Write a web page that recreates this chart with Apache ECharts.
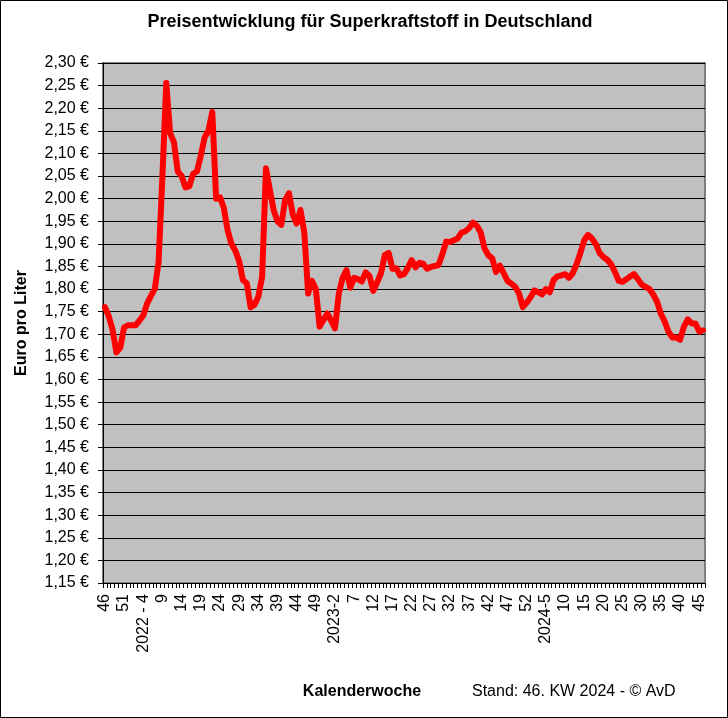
<!DOCTYPE html>
<html><head><meta charset="utf-8">
<script src="https://cdn.jsdelivr.net/npm/echarts@6/dist/echarts.min.js"></script>
<style>html,body{margin:0;padding:0;background:#fff}#c{width:728px;height:718px}</style>
</head><body><div id="c"></div>
<script>
const chartTitle = "Preisentwicklung für Superkraftstoff in Deutschland";
const yAxisTitle = "Euro pro Liter";
const xAxisTitle = "Kalenderwoche";
const footNote = "Stand: 46. KW 2024 - © AvD";

// calendar weeks covered: [year, firstWeek, lastWeek]
const weekRanges = [[2021, 46, 52], [2022, 1, 52], [2023, 1, 52], [2024, 1, 46]];

// labels shown on every 5th week
const tickLabels = ["46","51","2022 - 4","9","14","19","24","29","34","39","44","49",
  "2023-2","7","12","17","22","27","32","37","42","47","52",
  "2024-5","10","15","20","25","30","35","40","45"];

// Euro per litre, one value per week
const prices = [
  1.760,1.740,1.710,1.660,1.670,1.715,1.720,1.720,1.720,1.730,
  1.742,1.768,1.785,1.800,1.860,2.050,2.256,2.145,2.125,2.060,
  2.050,2.025,2.027,2.055,2.060,2.095,2.135,2.150,2.192,2.000,
  2.003,1.980,1.930,1.900,1.885,1.862,1.820,1.813,1.760,1.765,
  1.783,1.827,2.067,2.020,1.975,1.950,1.942,1.997,2.012,1.965,
  1.945,1.975,1.925,1.790,1.818,1.800,1.717,1.732,1.746,1.730,
  1.713,1.790,1.825,1.842,1.803,1.825,1.822,1.817,1.837,1.829,
  1.796,1.815,1.835,1.875,1.880,1.845,1.846,1.830,1.833,1.847,
  1.864,1.848,1.858,1.856,1.845,1.849,1.851,1.853,1.877,1.905,
  1.904,1.908,1.912,1.925,1.928,1.935,1.947,1.940,1.925,1.890,
  1.875,1.868,1.838,1.852,1.835,1.818,1.812,1.805,1.790,1.760,
  1.770,1.782,1.797,1.793,1.788,1.800,1.793,1.820,1.828,1.830,
  1.833,1.825,1.835,1.855,1.880,1.908,1.920,1.912,1.900,1.880,
  1.871,1.865,1.855,1.838,1.818,1.816,1.822,1.828,1.833,1.822,
  1.810,1.805,1.800,1.788,1.772,1.745,1.728,1.705,1.693,1.693,
  1.688,1.717,1.733,1.724,1.724,1.706,1.709
];

const categories = [];
weekRanges.forEach(([y, a, b]) => { for (let w = a; w <= b; w++) categories.push(y + "-" + w); });

const FONT = "Arial, 'Liberation Sans', sans-serif";
const chart = echarts.init(document.getElementById('c'), null, {renderer: 'canvas'});
chart.setOption({
  animation: false,
  backgroundColor: '#ffffff',
  grid: {left: 103, right: 23, top: 63, bottom: 135, show: true,
    backgroundColor: '#c0c0c0', borderColor: '#808080', borderWidth: 2},
  xAxis: {
    type: 'category', data: categories, boundaryGap: true,
    axisLine: {show: true, lineStyle: {color: '#000', width: 1}},
    axisTick: {show: true, interval: 0, length: 5, lineStyle: {color: '#000'}},
    axisLabel: {interval: 4, rotate: 90, margin: 11, color: '#000', fontFamily: FONT, fontSize: 16,
      formatter: (v, i) => (i % 5 === 0 ? (tickLabels[i / 5] || '') : '')},
    splitLine: {show: false}
  },
  yAxis: {
    type: 'value', min: 1.15, max: 2.30, interval: 0.05,
    axisLine: {show: true, lineStyle: {color: '#000', width: 1}},
    axisTick: {show: true, length: 5, lineStyle: {color: '#000'}},
    axisLabel: {margin: 14, color: '#000', fontFamily: FONT, fontSize: 16,
      formatter: v => v.toFixed(2).replace('.', ',') + ' €'},
    splitLine: {show: true, lineStyle: {color: '#000', width: 1}}
  },
  series: [{
    type: 'line', data: prices, showSymbol: false, symbol: 'none',
    lineStyle: {color: '#ff0000', width: 6, join: 'round', cap: 'round'},
    z: 5
  }],
  graphic: [
    {type: 'rect', shape: {x: 0.5, y: 0.5, width: 727, height: 717},
      style: {fill: 'none', stroke: '#000', lineWidth: 1}, silent: true},
    {type: 'text', x: 370, y: 22, style: {text: chartTitle, font: "bold 18px " + FONT,
      textAlign: 'center', textVerticalAlign: 'middle', fill: '#000'}},
    {type: 'text', x: 22, y: 323, rotation: Math.PI / 2, style: {text: yAxisTitle, font: "bold 16px " + FONT,
      textAlign: 'center', textVerticalAlign: 'middle', fill: '#000'}},
    {type: 'text', x: 362, y: 692, style: {text: xAxisTitle, font: "bold 16px " + FONT,
      textAlign: 'center', textVerticalAlign: 'middle', fill: '#000'}},
    {type: 'text', x: 472, y: 692, style: {text: footNote, font: "16px " + FONT,
      textAlign: 'left', textVerticalAlign: 'middle', fill: '#000'}}
  ]
});
</script></body></html>
